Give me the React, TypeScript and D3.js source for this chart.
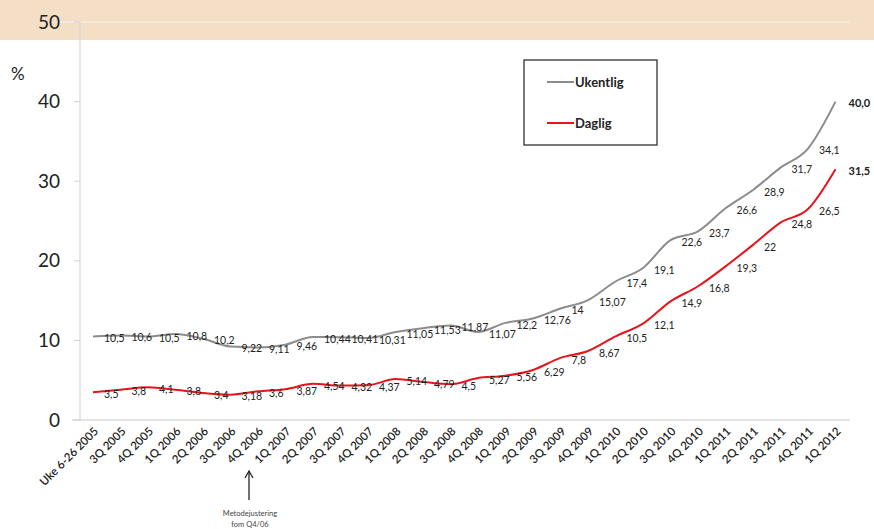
import React from "react";
import * as d3 from "d3";

const categories = ["Uke 6-26 2005","3Q 2005","4Q 2005","1Q 2006","2Q 2006","3Q 2006","4Q 2006","1Q 2007","2Q 2007","3Q 2007","4Q 2007","1Q 2008","2Q 2008","3Q 2008","4Q 2008","1Q 2009","2Q 2009","3Q 2009","4Q 2009","1Q 2010","2Q 2010","3Q 2010","4Q 2010","1Q 2011","2Q 2011","3Q 2011","4Q 2011","1Q 2012"];
const ukentlig = [10.5,10.6,10.5,10.8,10.2,9.22,9.11,9.46,10.44,10.41,10.31,11.05,11.53,11.87,11.07,12.2,12.76,14,15.07,17.4,19.1,22.6,23.7,26.6,28.9,31.7,34.1,40.0];
const daglig = [3.5,3.8,4.1,3.8,3.4,3.18,3.6,3.87,4.54,4.32,4.37,5.14,4.79,4.5,5.27,5.56,6.29,7.8,8.67,10.5,12.1,14.9,16.8,19.3,22,24.8,26.5,31.5];
const ukentligLabels = ["10,5","10,6","10,5","10,8","10,2","9,22","9,11","9,46","10,44","10,41","10,31","11,05","11,53","11,87","11,07","12,2","12,76","14","15,07","17,4","19,1","22,6","23,7","26,6","28,9","31,7","34,1","40,0"];
const dagligLabels = ["3,5","3,8","4,1","3,8","3,4","3,18","3,6","3,87","4,54","4,32","4,37","5,14","4,79","4,5","5,27","5,56","6,29","7,8","8,67","10,5","12,1","14,9","16,8","19,3","22","24,8","26,5","31,5"];
const yTicks = [0,10,20,30,40,50];

const W = 874, H = 529;
const font = "Lato, 'Open Sans', sans-serif";

export default function App() {
  const x = d3.scalePoint<string>().domain(categories).range([93, 835.5]);
  const y = d3.scaleLinear().domain([0, 50]).range([420, 22]);
  const line = d3.line<number>().x((_, i) => x(categories[i])!).y(d => y(d)).curve(d3.curveMonotoneX);
  const series = [
    { name: "Ukentlig", vals: ukentlig, labels: ukentligLabels, color: "#8c8c8c" },
    { name: "Daglig", vals: daglig, labels: dagligLabels, color: "#e8141c" },
  ];
  const arrowX = x(categories[6])! - 9;
  return (
    <svg width={W} height={H} style={{ position: "absolute", left: 0, top: 0, background: "#fff" }} fontFamily={font}>
      <rect x={0} y={0} width={W} height={40} fill="#f4dec6" />
      <line x1={55} x2={850} y1={y(50)} y2={y(50)} stroke="#f8ece0" strokeWidth={1.5} />
      <line x1={80} x2={80} y1={y(50)} y2={y(0)} stroke="#cfcfcf" strokeWidth={1} />
      <line x1={72} x2={850} y1={y(0)} y2={y(0)} stroke="#c8c8c8" strokeWidth={1.2} />
      {yTicks.map(t => (
        <g key={t}>
          <line x1={74} x2={80} y1={y(t)} y2={y(t)} stroke="#cfcfcf" strokeWidth={1} />
          <text x={60} y={y(t)} dy="0.35em" textAnchor="end" fontSize={19} fill="#222">{t}</text>
        </g>
      ))}
      <text x={11} y={80} fontSize={17} fill="#222">%</text>
      {series.map(s => (
        <path key={s.name} d={line(s.vals)!} fill="none" stroke={s.color} strokeWidth={2} />
      ))}
      {series.map(s => s.vals.map((v, i) => {
        const last = i === s.vals.length - 1;
        return (
          <text key={s.name + i} x={x(categories[i])! + (last ? 13 : 11)} y={y(v) + 2} dy="0.35em"
            fontSize={last ? 11 : 10.5} fontWeight={last ? 700 : 400} fill="#222">{s.labels[i]}</text>
        );
      }))}
      {categories.map(c => (
        <text key={c} transform={`translate(${x(c)! + 6},${432}) rotate(-45)`} textAnchor="end"
          fontSize={11.5} fontWeight={600} fill="#222">{c}</text>
      ))}
      <line x1={arrowX} x2={arrowX} y1={500} y2={471} stroke="#222" strokeWidth={1.3} />
      <path d={`M${arrowX - 4},${478} L${arrowX},${471} L${arrowX + 4},${478}`} fill="none" stroke="#222" strokeWidth={1.3} />
      <text x={arrowX + 1} y={516} textAnchor="middle" fontSize={7.5} fill="#444">Metodejustering</text>
      <text x={arrowX + 1} y={527} textAnchor="middle" fontSize={7.5} fill="#444">fom Q4/06</text>
      <rect x={524} y={60} width={133} height={85} fill="#fff" stroke="#333" strokeWidth={1.3} />
      <line x1={547} x2={574} y1={82} y2={82} stroke="#8c8c8c" strokeWidth={2} />
      <text x={575} y={82} dy="0.35em" fontSize={13} fontWeight={700} fill="#222">Ukentlig</text>
      <line x1={547} x2={574} y1={123} y2={123} stroke="#e8141c" strokeWidth={2} />
      <text x={575} y={123} dy="0.35em" fontSize={13} fontWeight={700} fill="#222">Daglig</text>
    </svg>
  );
}
